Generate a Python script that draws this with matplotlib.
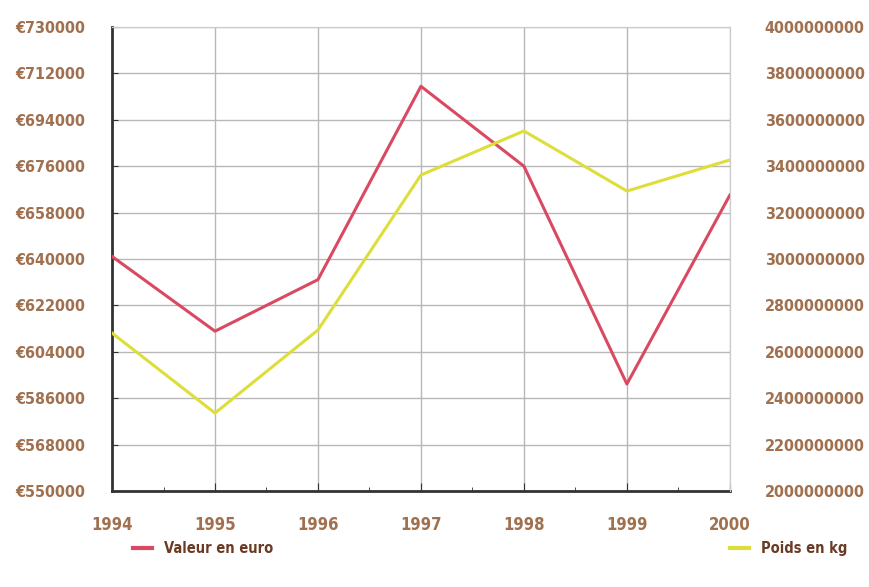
import matplotlib.pyplot as plt
from matplotlib.ticker import FixedLocator

years = [1994, 1995, 1996, 1997, 1998, 1999, 2000]
valeur_euro = [641000, 612000, 632000, 707000, 676000, 591500, 664800]
poids_kg = [2681e6, 2336e6, 2694e6, 3362e6, 3552e6, 3293e6, 3427e6]

left_ticks = list(range(550000, 730001, 18000))
right_ticks = list(range(2000000000, 4000000001, 200000000))

label_col = '#a0704f'
red = '#d94a62'
yellow = '#dede3a'

plt.rcParams['font.family'] = ['DejaVu Sans']
plt.rcParams['font.stretch'] = 'condensed'
plt.rcParams['font.weight'] = 'bold'

fig = plt.figure(figsize=(8.69, 5.87), dpi=100)
ax = fig.add_axes([0.1289, 0.1635, 0.711, 0.7905])
ax2 = ax.twinx()

ax.plot(years, valeur_euro, color=red, lw=2.2, zorder=3)
ax2.plot(years, poids_kg, color=yellow, lw=2.2, zorder=3)

ax.set_xlim(1994, 2000)
ax.set_ylim(550000, 730000)
ax2.set_ylim(2000000000, 4000000000)

ax.set_yticks(left_ticks)
ax.set_yticklabels(['€%d' % v for v in left_ticks])
ax2.set_yticks(right_ticks)
ax2.set_yticklabels(['%d' % v for v in right_ticks])
ax.set_xticks(years)
ax.set_xticklabels([str(y) for y in years])
ax.xaxis.set_minor_locator(FixedLocator([y + 0.5 for y in years[:-1]]))

ax.grid(True, color='#b8b8b8', lw=1)
ax.set_axisbelow(True)

for a in (ax, ax2):
    a.spines['top'].set_color('#cccccc')
    a.spines['right'].set_color('#cccccc')
ax.spines['left'].set_color('#333333')
ax.spines['left'].set_linewidth(2)
ax.spines['bottom'].set_color('#333333')
ax.spines['bottom'].set_linewidth(2)
ax2.spines['left'].set_visible(False)
ax2.spines['bottom'].set_visible(False)

ax.tick_params(axis='y', direction='in', length=4, color='#333333',
               labelcolor=label_col, labelsize=11.5, pad=19)
ax.tick_params(axis='x', which='major', direction='in', length=6, color='#333333',
               labelcolor=label_col, labelsize=12, pad=18)
ax.tick_params(axis='x', which='minor', direction='in', length=3, color='#333333')
ax2.tick_params(axis='y', length=0, labelcolor=label_col, labelsize=11.5, pad=25)

h1, = ax.plot([], [], color=red, lw=3)
h2, = ax.plot([], [], color=yellow, lw=3)
leg1 = fig.legend([h1], ['Valeur en euro'], loc='center left',
                  bbox_to_anchor=(0.138, 0.065), frameon=False, handlelength=1.3,
                  fontsize=10.5)
leg2 = fig.legend([h2], ['Poids en kg'], loc='center right',
                  bbox_to_anchor=(0.99, 0.065), frameon=False, handlelength=1.3,
                  fontsize=10.5)
for t in leg1.get_texts() + leg2.get_texts():
    t.set_color('#6b3a25')

fig.savefig('out.png', dpi=100)
